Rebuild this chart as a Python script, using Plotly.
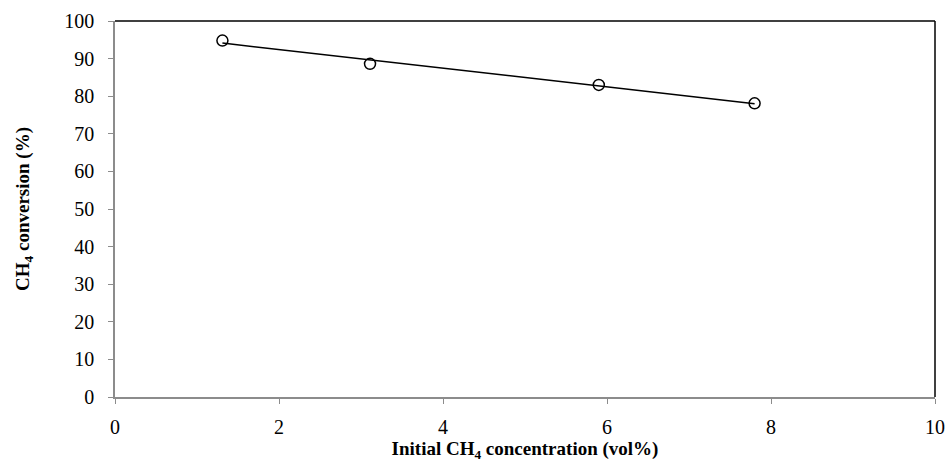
import numpy as np
import plotly.graph_objects as go

conc = [1.31, 3.11, 5.90, 7.80]
conversion = [94.8, 88.6, 83.0, 78.1]
x_ticks = [0, 2, 4, 6, 8, 10]
y_ticks = [0, 10, 20, 30, 40, 50, 60, 70, 80, 90, 100]

slope, intercept = np.polyfit(conc, conversion, 1)
fit_x = [min(conc), max(conc)]
fit_y = [slope * v + intercept for v in fit_x]

FONT = "Liberation Serif"

fig = go.Figure()
fig.add_trace(go.Scatter(x=fit_x, y=fit_y, mode="lines",
                         line=dict(color="black", width=1.5), showlegend=False, hoverinfo="skip"))
fig.add_trace(go.Scatter(x=conc, y=conversion, mode="markers",
                         marker=dict(symbol="circle-open", size=11, color="black", line=dict(width=1.5)),
                         showlegend=False))

fig.update_layout(
    width=947, height=462,
    margin=dict(l=115, r=12, t=21, b=65),
    paper_bgcolor="white", plot_bgcolor="white",
    font=dict(family=FONT, size=20, color="black"),
    xaxis=dict(range=[0, 10], tickvals=x_ticks, showgrid=False, zeroline=False, automargin=False,
               showline=True, linecolor="#8c8c8c", linewidth=1.5,
               ticks="outside", ticklen=5, tickcolor="#8c8c8c", ticklabelstandoff=6,
               title=dict(text="<b>Initial CH<sub>4</sub> concentration (vol%)</b>",
                          font=dict(family=FONT, size=19), standoff=11)),
    yaxis=dict(range=[0, 100], tickvals=y_ticks, showgrid=False, zeroline=False, automargin=False,
               showline=True, linecolor="#8c8c8c", linewidth=1.5,
               ticks="outside", ticklen=5, tickcolor="#8c8c8c", ticklabelstandoff=10,
               title=dict(text="<b>CH<sub>4</sub> conversion (%)</b>",
                          font=dict(family=FONT, size=19), standoff=30)),
    shapes=[
        dict(type="line", xref="paper", yref="paper", x0=0, x1=1, y0=1, y1=1,
             line=dict(color="black", width=1.5)),
        dict(type="line", xref="paper", yref="paper", x0=1, x1=1, y0=0, y1=1,
             line=dict(color="black", width=1.5)),
    ],
)

# remove the page's default 8px body margin so the figure sits at the window's corner
fig.write_html("out.html",
               config={"displayModeBar": False},
               post_script="document.body.style.margin='0';document.body.style.overflow='hidden';")
